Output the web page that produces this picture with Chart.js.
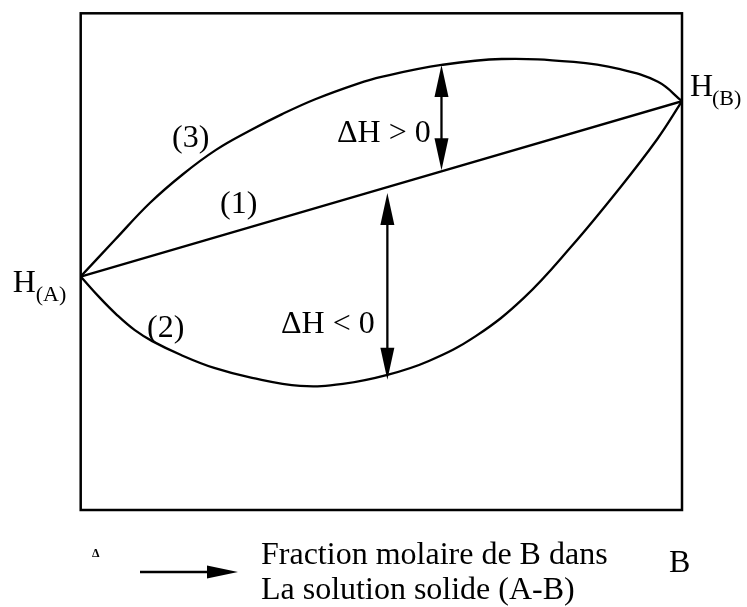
<!DOCTYPE html>
<html>
<head>
<meta charset="utf-8">
<script src="https://cdn.jsdelivr.net/npm/chart.js@4.4.1/dist/chart.umd.min.js"></script>
<style>
  html, body { margin: 0; padding: 0; background: #fff; }
  canvas { display: block; }
</style>
</head>
<body>
<canvas id="enthalpie" width="747" height="607"></canvas>
<script>
// abscisse : fraction molaire de B, ordonnée : enthalpie (unités arbitraires)
const xIdeal = [0, 1];
const hIdeal = [47.0, 82.3];

const xPositif = [0, 0.057, 0.115, 0.17, 0.225, 0.28, 0.335, 0.39, 0.46, 0.5, 0.6, 0.7, 0.82, 0.895, 0.96, 1];
const hPositif = [47.0, 54.4, 61.8, 67.6, 72.5, 76.3, 79.7, 82.7, 85.8, 87.2, 89.6, 90.8, 90.2, 88.8, 86.2, 82.3];

const xNegatif = [0, 0.032, 0.06, 0.09, 0.119, 0.167, 0.222, 0.285, 0.365, 0.436, 0.51, 0.579, 0.657, 0.737, 0.817, 0.895, 0.959, 1];
const hNegatif = [47.0, 42.7, 39.3, 36.2, 34.0, 31.2, 28.6, 26.6, 25.0, 25.4, 27.2, 30.0, 35.0, 42.7, 53.2, 64.6, 74.7, 82.3];

// flèches doubles ΔH : abscisse, bas et haut
const ecartX = [0.6, 0.51];
const ecartBas = [68.4, 26.2];
const ecartHaut = [89.6, 63.8];

const serif = '"Liberation Serif", "Times New Roman", serif';

const toPoints = (xs, ys) => xs.map((x, i) => ({ x: x, y: ys[i] }));

function fleche(ctx, x1, y1, x2, y2, long, demi) {
  // tête pleine au point (x2, y2)
  const ang = Math.atan2(y2 - y1, x2 - x1);
  ctx.beginPath();
  ctx.moveTo(x2, y2);
  ctx.lineTo(x2 - long * Math.cos(ang) + demi * Math.sin(ang), y2 - long * Math.sin(ang) - demi * Math.cos(ang));
  ctx.lineTo(x2 - long * Math.cos(ang) - demi * Math.sin(ang), y2 - long * Math.sin(ang) + demi * Math.cos(ang));
  ctx.closePath();
  ctx.fill();
}

function texte(ctx, str, x, y, taille) {
  ctx.font = taille + 'px ' + serif;
  ctx.fillText(str, x, y);
}

const schema = {
  id: 'schema',
  afterDatasetsDraw(chart) {
    const ctx = chart.ctx;
    const a = chart.chartArea;
    const sx = chart.scales.x, sy = chart.scales.y;
    ctx.save();
    ctx.strokeStyle = '#000';
    ctx.fillStyle = '#000';

    // cadre
    ctx.lineWidth = 2.5;
    ctx.strokeRect(a.left, a.top, a.right - a.left, a.bottom - a.top);

    // flèches ΔH
    ctx.lineWidth = 2.3;
    ecartX.forEach((x, i) => {
      const px = sx.getPixelForValue(x);
      const yb = sy.getPixelForValue(ecartBas[i]);
      const yh = sy.getPixelForValue(ecartHaut[i]);
      ctx.beginPath();
      ctx.moveTo(px, yb - 20);
      ctx.lineTo(px, yh + 20);
      ctx.stroke();
      fleche(ctx, px, yb - 10, px, yh, 32, 7);
      fleche(ctx, px, yh + 10, px, yb, 32, 7);
    });

    // étiquettes
    ctx.textBaseline = 'alphabetic';
    ctx.textAlign = 'left';
    const xa = sx.getPixelForValue(0), ya = sy.getPixelForValue(hIdeal[0]);
    const xb = sx.getPixelForValue(1), yb = sy.getPixelForValue(hIdeal[1]);
    texte(ctx, 'H', xa - 68, ya + 15, 32);
    texte(ctx, '(A)', xa - 45, ya + 24, 22);
    texte(ctx, 'H', xb + 8, yb - 5, 32);
    texte(ctx, '(B)', xb + 30, yb + 4, 22);

    texte(ctx, '(3)', 172, 147, 32);
    texte(ctx, '(1)', 220, 213, 32);
    texte(ctx, '(2)', 147, 337, 32);
    texte(ctx, '\u0394H > 0', 337, 142, 32);
    texte(ctx, '\u0394H < 0', 281, 333, 32);

    // légende de l'axe horizontal
    ctx.font = 'bold 12px ' + serif;
    ctx.fillText('\u0394', 92, 557);
    texte(ctx, 'Fraction molaire de B dans', 261, 564, 32);
    texte(ctx, 'La solution solide (A-B)', 261, 599, 32);
    texte(ctx, 'B', 669, 572, 32);

    ctx.lineWidth = 2.7;
    ctx.beginPath();
    ctx.moveTo(140, 572);
    ctx.lineTo(212, 572);
    ctx.stroke();
    fleche(ctx, 140, 572, 238, 572, 31, 6.5);

    ctx.restore();
  }
};

const courbe = (data) => ({
  data: data,
  borderColor: '#000',
  borderWidth: 2.3,
  pointRadius: 0,
  fill: false,
  tension: 0.4
});

new Chart(document.getElementById('enthalpie'), {
  type: 'line',
  data: {
    datasets: [
      courbe(toPoints(xIdeal, hIdeal)),
      courbe(toPoints(xNegatif, hNegatif)),
      courbe(toPoints(xPositif, hPositif))
    ]
  },
  options: {
    responsive: false,
    animation: false,
    layout: { padding: { left: 80.7, right: 65, top: 13.3, bottom: 97 } },
    scales: {
      x: { type: 'linear', min: 0, max: 1, display: false },
      y: { type: 'linear', min: 0, max: 100, display: false }
    },
    plugins: {
      legend: { display: false },
      tooltip: { enabled: false }
    }
  },
  plugins: [schema]
});
</script>
</body>
</html>
